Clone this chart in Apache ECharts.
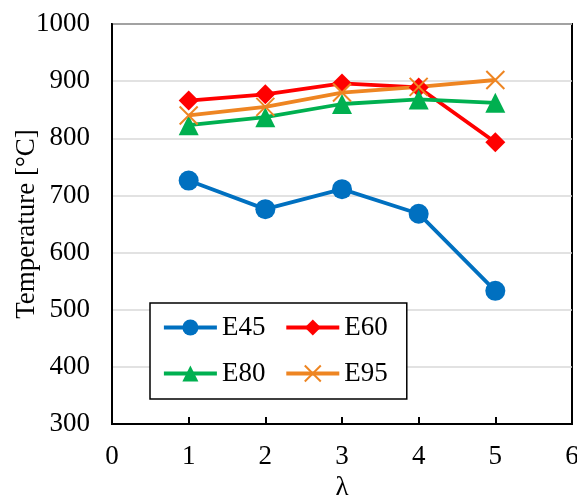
<!DOCTYPE html>
<html>
<head>
<meta charset="utf-8">
<script src="https://cdn.jsdelivr.net/npm/echarts@6/dist/echarts.min.js"></script>
<style>
  html, body { margin: 0; padding: 0; background: #fff; }
  #chart { width: 577px; height: 498px; }
</style>
</head>
<body>
<div id="chart"></div>
<script>
// λ values on the horizontal axis
var lambdas = [1, 2, 3, 4, 5];

// Temperature [°C] for each case
var e45 = [726, 676, 711, 668, 533];
var e60 = [866, 877, 896, 889, 793];
var e80 = [823, 837, 860, 868, 862];
var e95 = [840, 855, 880, 890, 902];

var seriesNames = ['E45', 'E60', 'E80', 'E95'];
var seriesColors = ['#0070C0', '#FF0000', '#00B050', '#EE8522'];

var FONT = 'Liberation Serif';
var FS = 27;

function pairs(vals) {
  return lambdas.map(function (x, i) { return [x, vals[i]]; });
}

function lineSeries(name, vals, color, symbol, size, extra) {
  var s = {
    name: name,
    type: 'line',
    data: pairs(vals),
    symbol: symbol,
    symbolSize: size,
    showSymbol: true,
    lineStyle: { color: color, width: 3.8 },
    itemStyle: { color: color, borderWidth: 0 },
    emphasis: { disabled: true },
    animation: false,
    z: 3
  };
  if (extra) { Object.assign(s.itemStyle, extra); }
  return s;
}

var chart = echarts.init(document.getElementById('chart'), null, { renderer: 'canvas' });

chart.setOption({
  backgroundColor: '#ffffff',
  animation: false,
  textStyle: { fontFamily: FONT, color: '#000' },
  grid: {
    left: 112, right: 5, top: 24, bottom: 74,
    containLabel: false,
    outerBoundsMode: 'none',
    show: true, borderColor: '#000', borderWidth: 2, backgroundColor: 'transparent'
  },
  xAxis: {
    type: 'value',
    min: 0, max: 6, interval: 1,
    name: 'λ',
    nameLocation: 'middle',
    nameGap: 50,
    nameMoveOverlap: false,
    nameTextStyle: { fontFamily: FONT, fontSize: FS, color: '#000' },
    axisLine: { show: true, lineStyle: { color: '#000', width: 2 } },
    axisTick: { show: true, inside: true, length: 7, lineStyle: { color: '#000', width: 2 } },
    axisLabel: { fontFamily: FONT, fontSize: FS, color: '#000', margin: 19 },
    splitLine: { show: false }
  },
  yAxis: {
    type: 'value',
    min: 300, max: 1000, interval: 100,
    name: 'Temperature [°C]',
    nameLocation: 'middle',
    nameGap: 72,
    nameMoveOverlap: false,
    nameTextStyle: { fontFamily: FONT, fontSize: FS, color: '#000' },
    axisLine: { show: true, lineStyle: { color: '#000', width: 2 } },
    axisTick: { show: false },
    axisLabel: {
      fontFamily: FONT, fontSize: FS, color: '#000', margin: 22,
      formatter: function (v) { return String(v); }
    },
    splitLine: { show: true, lineStyle: { color: '#D9D9D9', width: 1.5 } }
  },
  legend: {
    left: 150, top: 303,
    width: 235,
    orient: 'horizontal',
    data: seriesNames,
    itemWidth: 53, itemHeight: 20, itemGap: 19,
    padding: [11, 19, 12, 12],
    borderColor: '#000', borderWidth: 1.5,
    backgroundColor: '#fff',
    lineStyle: { width: 3.8 },
    textStyle: { fontFamily: FONT, fontSize: FS, color: '#000', width: 52 },
    selectedMode: false
  },
  series: [
    lineSeries('E45', e45, seriesColors[0], 'circle', 20),
    lineSeries('E60', e60, seriesColors[1], 'diamond', 20),
    lineSeries('E80', e80, seriesColors[2], 'triangle', 20),
    lineSeries('E95', e95, seriesColors[3], 'path://M0,0L10,10M10,0L0,10', 18,
      { borderColor: seriesColors[3], borderWidth: 2 })
  ]
});
</script>
</body>
</html>
